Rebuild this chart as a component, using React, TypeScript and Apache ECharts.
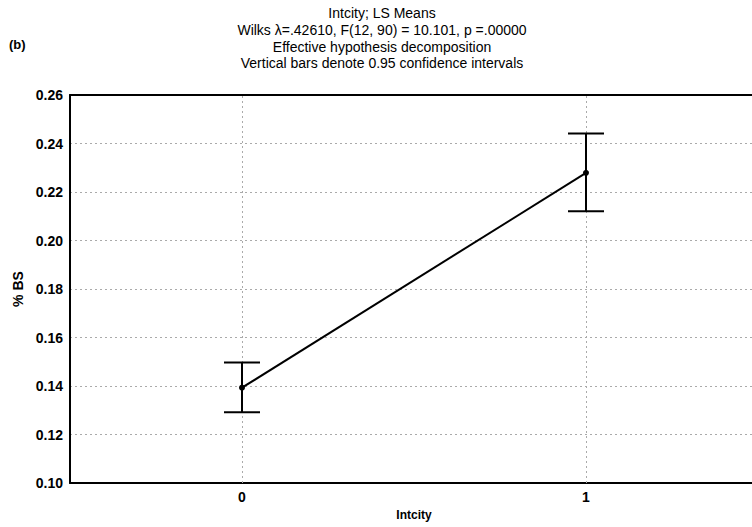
import React, { useEffect, useRef } from "react";
import * as echarts from "echarts";

const categories = ["0", "1"];
const means = [0.1393, 0.2279];
const lower = [0.1292, 0.2121];
const upper = [0.1497, 0.2441];
const titleLines = [
  "Intcity; LS Means",
  "Wilks \u03bb=.42610, F(12, 90) = 10.101, p =.00000",
  "Effective hypothesis decomposition",
  "Vertical bars denote 0.95 confidence intervals",
];

const FONT = "'Liberation Sans', Arial, sans-serif";

export default function App() {
  const ref = useRef<HTMLDivElement>(null);
  useEffect(() => {
    if (!ref.current) return;
    const chart = echarts.init(ref.current, undefined, { renderer: "svg" });
    const errData = categories.map((c, i) => [i, lower[i], upper[i]]);
    chart.setOption({
      animation: false,
      backgroundColor: "#ffffff",
      title: {
        text: titleLines.join("\n"),
        left: 377,
        textAlign: "center",
        top: 0,
        textStyle: {
          fontFamily: FONT,
          fontSize: 14,
          fontWeight: "normal",
          color: "#000",
          lineHeight: 16.7,
        },
      },
      graphic: [
        {
          type: "text",
          left: 9,
          top: 38,
          style: { text: "(b)", fontFamily: FONT, fontSize: 13, fontWeight: "bold", fill: "#000" },
        },
      ],
      grid: { left: 70, top: 95, width: 688, height: 388, outerBoundsMode: "none" },
      xAxis: [
        {
          type: "category",
          data: categories,
          boundaryGap: true,
          name: "Intcity",
          nameLocation: "middle",
          nameGap: 25,
          nameTextStyle: { fontFamily: FONT, fontSize: 12, fontWeight: "bold", color: "#000" },
          axisLine: { lineStyle: { color: "#000", width: 2 } },
          axisTick: { show: false },
          axisLabel: { fontFamily: FONT, fontSize: 14, fontWeight: "bold", color: "#000", margin: 7 },
          splitLine: { show: false },
        },
        {
          type: "category",
          data: categories,
          position: "top",
          boundaryGap: true,
          axisLine: { lineStyle: { color: "#000", width: 2 } },
          axisTick: { show: false },
          axisLabel: { show: false },
          splitLine: { show: false },
        },
      ],
      yAxis: {
        type: "value",
        min: 0.1,
        max: 0.26,
        interval: 0.02,
        name: "% BS",
        nameLocation: "middle",
        nameRotate: 90,
        nameGap: 33,
        nameTextStyle: { fontFamily: FONT, fontSize: 14, fontWeight: "bold", color: "#000" },
        axisLine: { show: true, lineStyle: { color: "#000", width: 2 } },
        axisTick: { show: false },
        axisLabel: {
          fontFamily: FONT,
          fontSize: 14,
          fontWeight: "bold",
          color: "#000",
          margin: 7,
          formatter: (v: number) => v.toFixed(2),
        },
        splitLine: { show: true, lineStyle: { color: "#aaa", type: [2, 3], width: 1 } },
      },
      series: [
        {
          type: "line",
          data: means,
          symbol: "circle",
          symbolSize: 6,
          itemStyle: { color: "#000" },
          lineStyle: { color: "#000", width: 2 },
          z: 5,
          markLine: {
            silent: true,
            symbol: "none",
            label: { show: false },
            lineStyle: { color: "#aaa", type: [2, 3], width: 1 },
            data: categories.map((c) => ({ xAxis: c })),
            z: 1,
          },
        },
        {
          type: "custom",
          data: errData,
          z: 4,
          renderItem: (params: any, api: any) => {
            const x = api.value(0);
            const lo = api.coord([x, api.value(1)]);
            const hi = api.coord([x, api.value(2)]);
            const hw = 18;
            const style = { stroke: "#000", lineWidth: 2 };
            return {
              type: "group",
              children: [
                { type: "line", shape: { x1: lo[0], y1: lo[1], x2: hi[0], y2: hi[1] }, style },
                { type: "line", shape: { x1: lo[0] - hw, y1: lo[1], x2: lo[0] + hw, y2: lo[1] }, style },
                { type: "line", shape: { x1: hi[0] - hw, y1: hi[1], x2: hi[0] + hw, y2: hi[1] }, style },
              ],
            };
          },
        },
      ],
    });
    return () => chart.dispose();
  }, []);
  return (
    <div
      ref={ref}
      style={{ position: "fixed", left: 0, top: 0, width: 752, height: 527 }}
    />
  );
}
